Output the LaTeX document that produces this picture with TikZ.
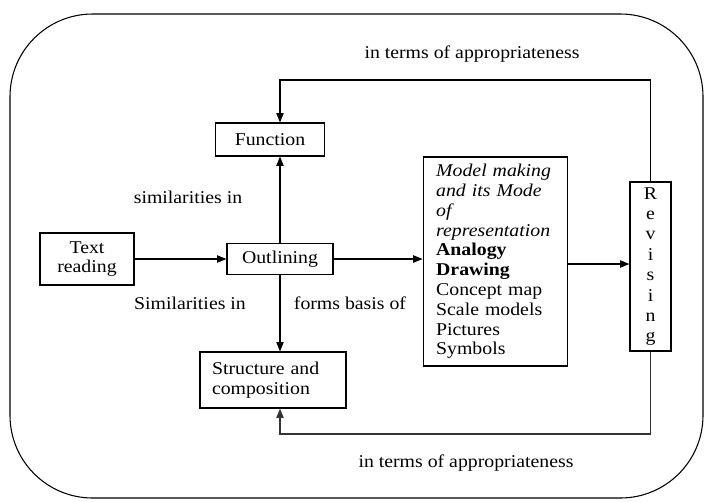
\documentclass[tikz,border=0pt]{standalone}
\usepackage{fontspec}
\setmainfont{Liberation Serif}[FakeStretch=1.1]
\usetikzlibrary{arrows.meta}

\begin{document}
\begin{tikzpicture}[x=0.75pt, y=-0.75pt,
        txt/.style={font=\fontsize{13.5}{14.85}\selectfont},
        stage/.style={draw, rectangle, line width=0.9pt, align=center, inner sep=2pt, txt},
        modelbox/.style={draw, rectangle, line width=0.9pt, align=left, txt, text width=89pt, inner xsep=9.75pt, inner ysep=3pt, minimum height=156.75pt},
        revbox/.style={draw, rectangle, line width=0.9pt, align=center, font=\fontsize{13.5}{15.3}\selectfont, minimum width=30.75pt, minimum height=126.75pt, inner sep=1pt},
        arrow/.style={-{Triangle[length=7pt, width=5.5pt]}, line width=0.8pt},
        feedback/.style={-{Triangle[length=7pt, width=5.5pt]}, line width=0.8pt, black!80},
        edgelabel/.style={txt, inner sep=1pt}
    ]
    \useasboundingbox (0,0) rectangle (706,501);

    % --- Frame ---
    \draw[line width=0.8pt, rounded corners=62pt] (10,14) rectangle (703,498);

    % --- Stages ---
    \node[stage, minimum width=70.5pt, minimum height=39pt] (reading) at (87,259) {Text\\reading};
    \node[stage, minimum width=79.5pt, minimum height=23.25pt] (outline) at (280,259) {Outlining};
    \node[stage, minimum width=81.75pt, minimum height=24.75pt] (function) at (270,139.5) {Function};
    \node[stage, align=left, text width=91.5pt, inner xsep=9pt, minimum height=42pt] (structure) at (273,380) {Structure and\\composition};
    \node[modelbox] (model) at (495.5,261.5) {\textit{Model making}\\\textit{and its Mode}\\\textit{of}\\\textit{representation}\\\textbf{Analogy}\\\textbf{Drawing}\\Concept map\\Scale models\\Pictures\\Symbols};
    \node[revbox] (revising) at (650.5,266.5) {R\\e\\v\\i\\s\\i\\n\\g};

    % --- Turning points ---
    \coordinate (topturn) at (280,80);
    \coordinate (botturn) at (280,434);

    % --- Arrows ---
    \draw[arrow] (reading) -- (outline);
    \draw[arrow] (outline.east) -- (outline.east -| model.west);
    \draw[arrow] (model.east |- 0,264) -- (revising.west |- 0,264);
    \draw[arrow] (outline.north) -- (outline.north |- function.south);
    \draw[arrow] (outline.south) -- (outline.south |- structure.north);
    \draw[arrow] (revising.north) |- (topturn) -- (topturn |- function.north);
    \draw[feedback] (revising.south) |- (botturn) -- (botturn |- structure.south);

    % --- Labels ---
    \node[edgelabel] (lbltop) at (472,54) {in terms of appropriateness};
    \node[edgelabel] (lblbot) at (466,463) {in terms of appropriateness};
    \node[edgelabel] (lblsim) at (188,197) {similarities in};
    \node[edgelabel] (lblSim) at (190,303) {Similarities in};
    \node[edgelabel] (lblbasis) at (350,303) {forms basis of};

\end{tikzpicture}
\end{document}
